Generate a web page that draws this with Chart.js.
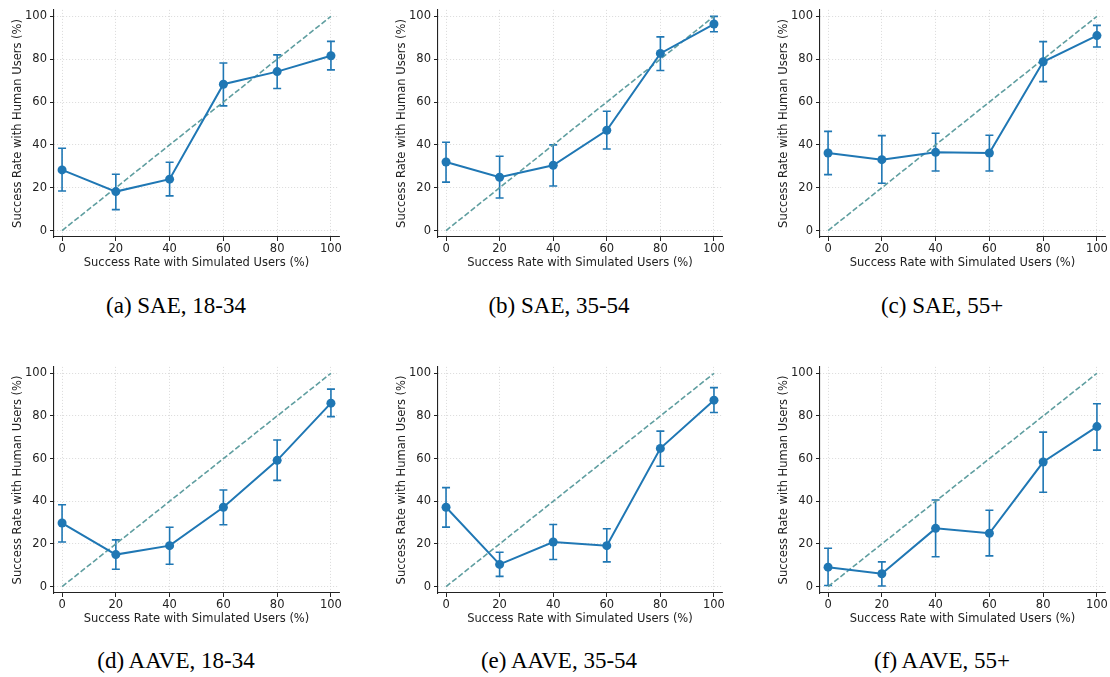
<!DOCTYPE html>
<html lang="en">
<head>
  <meta charset="UTF-8">
  <title>Success rate: simulated vs human users</title>
  <script src="https://cdn.jsdelivr.net/npm/chart.js"></script>
</head>
<body>
  <div id="page"></div>
</body>
</html>
<style>
body {
  margin: 0;
  background: #fff;
}

#page {
  position: relative;
  width: 1110px;
  height: 677px;
}

.panel {
  position: absolute;
}

.caption {
  position: absolute;
  font-family: "Liberation Serif", "Times New Roman", serif;
  font-size: 23px;
  color: #000;
  text-align: center;
  white-space: nowrap;
  transform: translateX(-50%);
}
</style>
<script>
// x positions (simulated-user success rate) and shared tick labels
const xVals = [0, 20, 40, 60, 80, 100];
const tickVals = [0, 20, 40, 60, 80, 100];

// (a) SAE, 18-34
const saeYoungMean = [28.3, 18.2, 24.0, 68.3, 74.2, 81.6];
const saeYoungLo   = [18.5, 9.8, 16.2, 58.2, 66.3, 75.0];
const saeYoungHi   = [38.4, 26.3, 31.9, 78.2, 82.0, 88.3];

// (b) SAE, 35-54
const saeMidMean = [32.0, 24.9, 30.5, 46.8, 82.7, 96.4];
const saeMidLo   = [22.6, 15.2, 20.8, 38.1, 74.7, 92.8];
const saeMidHi   = [41.2, 34.7, 40.0, 55.7, 90.4, 100.0];

// (c) SAE, 55+
const saeOldMean = [36.2, 33.1, 36.5, 36.2, 78.8, 91.0];
const saeOldLo   = [26.1, 22.1, 27.8, 27.8, 69.5, 85.7];
const saeOldHi   = [46.3, 44.3, 45.4, 44.5, 88.2, 95.8];

// (d) AAVE, 18-34
const aaveYoungMean = [29.8, 15.0, 19.2, 37.2, 59.2, 86.0];
const aaveYoungLo   = [20.9, 8.1, 10.5, 29.0, 49.8, 79.7];
const aaveYoungHi   = [38.4, 21.9, 27.8, 45.3, 68.7, 92.6];

// (e) AAVE, 35-54
const aaveMidMean = [37.2, 10.4, 20.9, 19.2, 64.8, 87.4];
const aaveMidLo   = [27.9, 4.8, 12.7, 11.6, 56.4, 81.6];
const aaveMidHi   = [46.4, 16.1, 29.1, 27.1, 72.9, 93.3];

// (f) AAVE, 55+
const aaveOldMean = [9.1, 6.0, 27.3, 25.0, 58.4, 75.0];
const aaveOldLo   = [0.5, 0.3, 14.0, 14.4, 44.2, 64.0];
const aaveOldHi   = [18.0, 11.6, 40.6, 35.8, 72.4, 85.7];

const panels = [
  { caption: '(a) SAE, 18-34',  mean: saeYoungMean,  lo: saeYoungLo,  hi: saeYoungHi,  left: 54,  right: 339,  top: 9,   bottom: 237, capX: 176, capY: 293 },
  { caption: '(b) SAE, 35-54',  mean: saeMidMean,    lo: saeMidLo,    hi: saeMidHi,    left: 438, right: 722,  top: 9,   bottom: 237, capX: 559, capY: 293 },
  { caption: '(c) SAE, 55+',    mean: saeOldMean,    lo: saeOldLo,    hi: saeOldHi,    left: 820, right: 1105, top: 9,   bottom: 237, capX: 942, capY: 293 },
  { caption: '(d) AAVE, 18-34', mean: aaveYoungMean, lo: aaveYoungLo, hi: aaveYoungHi, left: 54,  right: 339,  top: 366, bottom: 593, capX: 176, capY: 648 },
  { caption: '(e) AAVE, 35-54', mean: aaveMidMean,   lo: aaveMidLo,   hi: aaveMidHi,   left: 438, right: 722,  top: 366, bottom: 593, capX: 559, capY: 648 },
  { caption: '(f) AAVE, 55+',   mean: aaveOldMean,   lo: aaveOldLo,   hi: aaveOldHi,   left: 820, right: 1105, top: 366, bottom: 593, capX: 942, capY: 648 }
];

const BLUE = '#1f77b4';
const DIAG = '#5f9ea0';
const Y_AXIS_W = 54;
const X_AXIS_H = 38;
const PAD_TOP = 9;
const PAD_RIGHT = 5;
const FONT = { family: 'DejaVu Sans', size: 11.5 };

// draws vertical error bars with caps through the chart's own scales
const errorBars = {
  id: 'errorBars',
  beforeDatasetsDraw(chart, args, opts) {
    const { ctx, scales: { x, y } } = chart;
    ctx.save();
    ctx.strokeStyle = BLUE;
    ctx.lineWidth = 1.6;
    opts.lo.forEach((lo, i) => {
      const px = x.getPixelForValue(xVals[i]);
      const yLo = y.getPixelForValue(lo);
      const yHi = y.getPixelForValue(opts.hi[i]);
      ctx.beginPath();
      ctx.moveTo(px, yLo); ctx.lineTo(px, yHi);
      ctx.moveTo(px - 4, yLo); ctx.lineTo(px + 4, yLo);
      ctx.moveTo(px - 4, yHi); ctx.lineTo(px + 4, yHi);
      ctx.stroke();
    });
    ctx.restore();
  }
};

function axisOpts(title, isX) {
  return {
    type: 'linear',
    min: -3,
    max: 103,
    afterBuildTicks: s => { s.ticks = tickVals.map(v => ({ value: v })); },
    afterFit: s => {
      if (isX) s.height = X_AXIS_H; else s.width = Y_AXIS_W;
    },
    ticks: {
      color: '#222',
      font: FONT,
      padding: isX ? 1 : 3,
      maxRotation: 0,
      autoSkip: false
    },
    grid: {
      color: '#d0d0d0',
      lineWidth: 0.8,
      tickColor: '#222',
      tickLength: 4,
      tickWidth: 1,
      drawOnChartArea: true
    },
    border: { display: true, color: '#222', width: 1.1, dash: [1, 2] },
    title: {
      display: true,
      text: title,
      color: '#222',
      font: FONT,
      padding: isX ? { top: 0, bottom: 5 } : { top: 11, bottom: 0 }
    }
  };
}

const page = document.getElementById('page');

panels.forEach(p => {
  const w = (p.right - p.left) + Y_AXIS_W + PAD_RIGHT;
  const h = (p.bottom - p.top) + PAD_TOP + X_AXIS_H;

  const box = document.createElement('div');
  box.className = 'panel';
  box.style.left = (p.left - Y_AXIS_W) + 'px';
  box.style.top = (p.top - PAD_TOP) + 'px';
  box.style.width = w + 'px';
  box.style.height = h + 'px';
  const canvas = document.createElement('canvas');
  box.appendChild(canvas);
  page.appendChild(box);

  const cap = document.createElement('div');
  cap.className = 'caption';
  cap.style.left = p.capX + 'px';
  cap.style.top = p.capY + 'px';
  cap.textContent = p.caption;
  page.appendChild(cap);

  new Chart(canvas.getContext('2d'), {
    type: 'scatter',
    data: {
      datasets: [
        {
          label: 'Ideal',
          data: [{ x: 0, y: 0 }, { x: 100, y: 100 }],
          showLine: true,
          borderColor: DIAG,
          borderWidth: 1.6,
          borderDash: [5.5, 2.4],
          pointRadius: 0,
          order: 2
        },
        {
          label: 'Human vs simulated',
          data: xVals.map((x, i) => ({ x, y: p.mean[i] })),
          showLine: true,
          borderColor: BLUE,
          borderWidth: 2,
          pointRadius: 4.5,
          pointBackgroundColor: BLUE,
          pointBorderWidth: 0,
          order: 1
        }
      ]
    },
    options: {
      responsive: true,
      maintainAspectRatio: false,
      animation: false,
      layout: { padding: { top: PAD_TOP, right: PAD_RIGHT, left: 0, bottom: 0 } },
      plugins: {
        legend: { display: false },
        tooltip: { enabled: false },
        errorBars: { lo: p.lo, hi: p.hi }
      },
      scales: {
        x: axisOpts('Success Rate with Simulated Users (%)', true),
        y: axisOpts('Success Rate with Human Users (%)', false)
      }
    },
    plugins: [errorBars]
  });
});
</script>
